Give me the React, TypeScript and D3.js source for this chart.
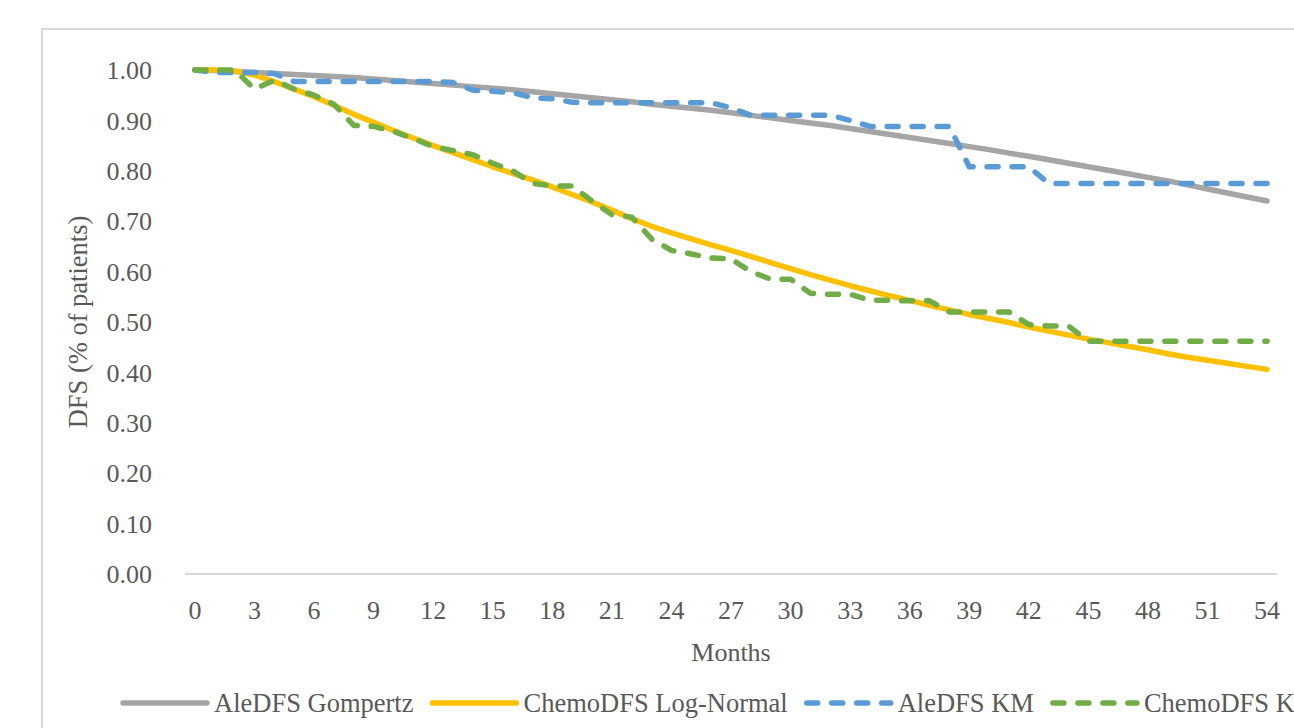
import React, { useEffect, useRef } from "react";
import * as d3 from "d3";

const months: number[] = [
  0, 1, 2, 3, 4, 5, 6, 7, 8, 9, 10, 11, 12, 13, 14, 15, 16, 17, 18, 19, 20,
  21, 22, 23, 24, 25, 26, 27, 28, 29, 30, 31, 32, 33, 34, 35, 36, 37, 38, 39,
  40, 41, 42, 43, 44, 45, 46, 47, 48, 49, 50, 51, 52, 53, 54,
];

const xTickLabels: number[] = [0, 3, 6, 9, 12, 15, 18, 21, 24, 27, 30, 33, 36, 39, 42, 45, 48, 51, 54];
const yTickLabels: number[] = [0, 0.1, 0.2, 0.3, 0.4, 0.5, 0.6, 0.7, 0.8, 0.9, 1.0];

const aleGompertz: number[] = [
  1.0, 0.999, 0.997, 0.995, 0.993, 0.991, 0.989, 0.987, 0.985, 0.982, 0.979,
  0.976, 0.973, 0.97, 0.967, 0.964, 0.961, 0.957, 0.953, 0.949, 0.945,
  0.941, 0.937, 0.932, 0.928, 0.924, 0.92, 0.915, 0.91, 0.905, 0.9,
  0.895, 0.89, 0.884, 0.878, 0.872, 0.866, 0.86, 0.854, 0.848, 0.842,
  0.835, 0.829, 0.822, 0.815, 0.808, 0.801, 0.794, 0.787, 0.78, 0.772,
  0.764, 0.756, 0.748, 0.74,
];

const chemoLogNormal: number[] = [
  1.0, 1.0, 0.998, 0.99, 0.977, 0.962, 0.947, 0.93, 0.912, 0.896, 0.88,
  0.865, 0.85, 0.836, 0.822, 0.808, 0.795, 0.782, 0.768, 0.753, 0.738,
  0.722, 0.705, 0.69, 0.677, 0.665, 0.653, 0.642, 0.63, 0.618, 0.606,
  0.594, 0.583, 0.572, 0.562, 0.552, 0.543, 0.533, 0.524, 0.515, 0.507,
  0.499, 0.49, 0.482, 0.474, 0.466, 0.459, 0.452, 0.445, 0.437, 0.43,
  0.424, 0.418, 0.412, 0.406,
];

const aleKM: number[] = [
  1.0, 0.995, 0.995, 0.995, 0.993, 0.977, 0.977, 0.977, 0.977, 0.977, 0.977,
  0.977, 0.977, 0.975, 0.96, 0.958, 0.955, 0.945, 0.943, 0.936, 0.935,
  0.935, 0.935, 0.935, 0.935, 0.935, 0.935, 0.925, 0.91, 0.91, 0.91,
  0.91, 0.91, 0.9, 0.888, 0.888, 0.888, 0.888, 0.888, 0.808, 0.808,
  0.808, 0.808, 0.775, 0.775, 0.775, 0.775, 0.775, 0.775, 0.775, 0.775,
  0.775, 0.775, 0.775, 0.775,
];

const chemoKM: number[] = [
  1.0, 1.0, 1.0, 0.962, 0.98, 0.962, 0.95, 0.932, 0.89, 0.888, 0.878,
  0.864, 0.848, 0.84, 0.832, 0.815, 0.8, 0.775, 0.77, 0.77, 0.74,
  0.713, 0.708, 0.665, 0.642, 0.635, 0.627, 0.625, 0.6, 0.585, 0.585,
  0.557, 0.555, 0.555, 0.543, 0.543, 0.542, 0.542, 0.52, 0.52, 0.52,
  0.52, 0.495, 0.492, 0.492, 0.462, 0.462, 0.462, 0.462, 0.462, 0.462,
  0.462, 0.462, 0.462, 0.462,
];

const seriesNames = ["AleDFS Gompertz", "ChemoDFS Log-Normal", "AleDFS KM", "ChemoDFS KM"];
const seriesData = [aleGompertz, chemoLogNormal, aleKM, chemoKM];
const seriesColors = ["#a5a5a5", "#ffc000", "#5b9bd5", "#70ad47"];
const seriesDashed = [false, false, true, true];

const W = 1294;
const H = 728;
const FONT = "'Liberation Serif', 'Times New Roman', serif";
const TXT = "#595959";

export default function App() {
  const ref = useRef<SVGSVGElement>(null);

  useEffect(() => {
    const svg = d3.select(ref.current);
    svg.selectAll("*").remove();

    const left = 185, right = 1277, top = 70, bottom = 574;
    const x = d3.scalePoint<number>().domain(months).range([left, right]).padding(0.5);
    const y = d3.scaleLinear().domain([0, 1]).range([bottom, top]);

    // chart border
    svg.append("rect")
      .attr("x", 42).attr("y", 29)
      .attr("width", W).attr("height", H)
      .attr("fill", "white").attr("stroke", "#d9d9d9").attr("stroke-width", 2);

    // axis line
    svg.append("line")
      .attr("x1", left).attr("x2", right)
      .attr("y1", y(0)).attr("y2", y(0))
      .attr("stroke", "#d9d9d9").attr("stroke-width", 2);

    // y tick labels
    svg.append("g").selectAll("text").data(yTickLabels).join("text")
      .attr("x", 152).attr("y", (d) => y(d))
      .attr("dy", "0.35em")
      .attr("text-anchor", "end")
      .attr("font-family", FONT).attr("font-size", 26).attr("fill", TXT)
      .text((d) => d3.format(".2f")(d));

    // x tick labels
    svg.append("g").selectAll("text").data(xTickLabels).join("text")
      .attr("x", (d) => x(d) as number).attr("y", 610)
      .attr("dy", "0.35em")
      .attr("text-anchor", "middle")
      .attr("font-family", FONT).attr("font-size", 26).attr("fill", TXT)
      .text((d) => String(d));

    // axis titles
    svg.append("text")
      .attr("x", (left + right) / 2).attr("y", 652).attr("dy", "0.35em")
      .attr("text-anchor", "middle")
      .attr("font-family", FONT).attr("font-size", 26).attr("fill", TXT)
      .text("Months");

    svg.append("text")
      .attr("transform", `translate(78,${(top + bottom) / 2}) rotate(-90)`)
      .attr("dy", "0.35em")
      .attr("text-anchor", "middle")
      .attr("font-family", FONT).attr("font-size", 26.5).attr("fill", TXT)
      .text("DFS (% of patients)");

    // lines
    const line = d3.line<number>()
      .x((_, i) => x(months[i]) as number)
      .y((d) => y(d));

    seriesData.forEach((data, i) => {
      svg.append("path")
        .datum(data)
        .attr("d", line)
        .attr("fill", "none")
        .attr("stroke", seriesColors[i])
        .attr("stroke-width", 5.5)
        .attr("stroke-linecap", "round")
        .attr("stroke-linejoin", "round")
        .attr("stroke-dasharray", seriesDashed[i] ? "11 14" : null);
    });

    // legend
    const legY = 703;
    let lx = 123;
    seriesNames.forEach((name, i) => {
      svg.append("line")
        .attr("x1", lx).attr("x2", lx + 84)
        .attr("y1", legY).attr("y2", legY)
        .attr("stroke", seriesColors[i])
        .attr("stroke-width", 5.5)
        .attr("stroke-linecap", "round")
        .attr("stroke-dasharray", seriesDashed[i] ? "11 14" : null);
      const t = svg.append("text")
        .attr("x", lx + 91).attr("y", legY).attr("dy", "0.35em")
        .attr("font-family", FONT).attr("font-size", 26.5).attr("fill", TXT)
        .text(name);
      const w = (t.node() as SVGTextElement).getComputedTextLength();
      lx = lx + 91 + w + 19;
    });
  }, []);

  return (
    <svg
      ref={ref}
      width={W}
      height={H}
      style={{ position: "absolute", left: 0, top: 0, display: "block", background: "white" }}
    />
  );
}
